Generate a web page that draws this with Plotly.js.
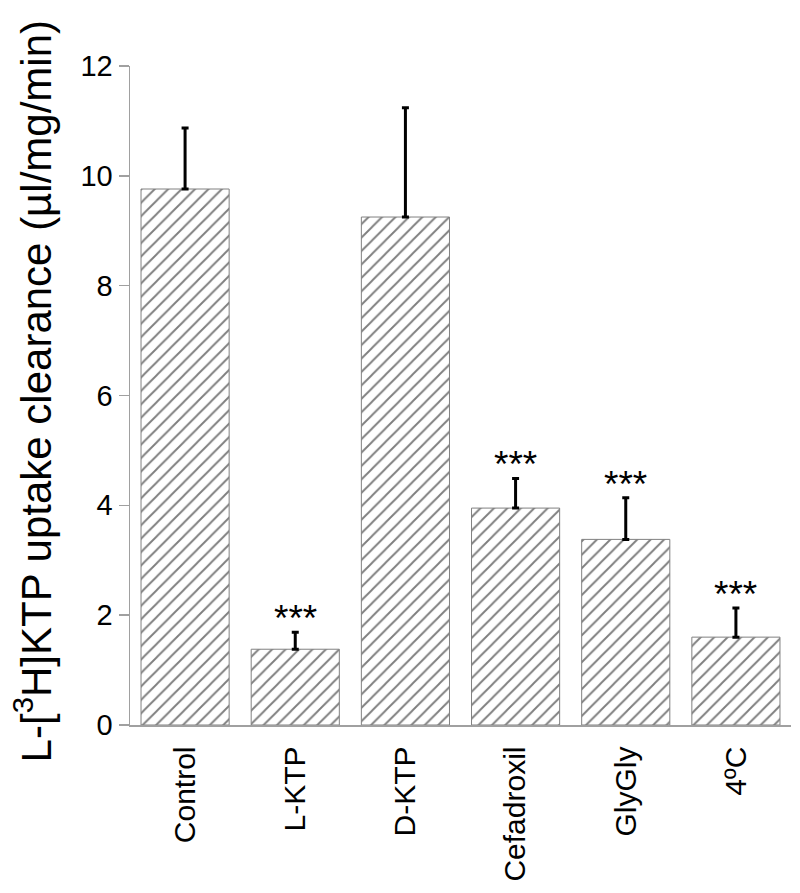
<!DOCTYPE html>
<html>
<head>
<meta charset="utf-8">
<script src="https://cdn.plot.ly/plotly-3.0.1.min.js"></script>
<style>
  html, body { margin:0; padding:0; background:#fff; }
  #plot { width:800px; height:893px; }
</style>
</head>
<body>
<div id="plot"></div>
<script>
(function(){
  const categories = ['Control','L-KTP','D-KTP','Cefadroxil','GlyGly','4ºC'];
  const clearance  = [9.76, 1.38, 9.25, 3.95, 3.38, 1.60];
  const sem        = [1.11, 0.31, 1.99, 0.54, 0.76, 0.53];
  const signif     = ['', '***', '', '***', '***', '***'];

  const font = 'Liberation Sans, Arial, sans-serif';

  const data = [{
    type:'bar',
    x:categories,
    y:clearance,
    marker:{
      color:'#fff',
      line:{ color:'#808080', width:1 },
      pattern:{ shape:'/', fgcolor:'#000', bgcolor:'#fff', size:9.5, solidity:0.2, fillmode:'overlay' }
    },
    error_y:{
      type:'data', symmetric:false, array:sem,
      arrayminus:sem.map(() => 0),
      color:'#000', thickness:3, width:3.5
    },
    hoverinfo:'none'
  }];

  // significance marks above the error bars
  const annotations = categories.map((c, i) => ({
    x:c, y:clearance[i] + sem[i], xref:'x', yref:'y',
    text:signif[i], showarrow:false, yanchor:'bottom', yshift:-9,
    font:{ family:font, size:37, color:'#000' }
  })).filter(a => a.text);

  annotations.push({
    xref:'paper', yref:'paper', x:-0.147, y:0.506,
    xanchor:'center', yanchor:'middle', textangle:-90, showarrow:false,
    text:'L-[<sup>3</sup>H]KTP uptake clearance (µl/mg/min)',
    font:{ family:font, size:42, color:'#000' }
  });

  const layout = {
    width:800, height:893,
    margin:{ l:130, r:9, t:66, b:168 },
    paper_bgcolor:'#fff', plot_bgcolor:'#fff',
    showlegend:false,
    bargap:0.2,
    font:{ family:font, color:'#000' },
    xaxis:{
      showline:true, linecolor:'#a0a0a0', linewidth:1.5,
      ticks:'outside', ticklen:8, tickcolor:'rgba(0,0,0,0)',
      tickangle:-90, showgrid:false, zeroline:false,
      tickfont:{ family:font, size:30, color:'#000' }
    },
    yaxis:{
      range:[0,12], dtick:2, showgrid:false, zeroline:false,
      showline:true, linecolor:'#a0a0a0', linewidth:1.5,
      ticks:'outside', ticklen:10, tickcolor:'#a0a0a0', tickwidth:1.5,
      tickfont:{ family:font, size:29, color:'#000' }
    },
    annotations:annotations
  };

  Plotly.newPlot('plot', data, layout, { displayModeBar:false, staticPlot:true });
})();
</script>
</body>
</html>
